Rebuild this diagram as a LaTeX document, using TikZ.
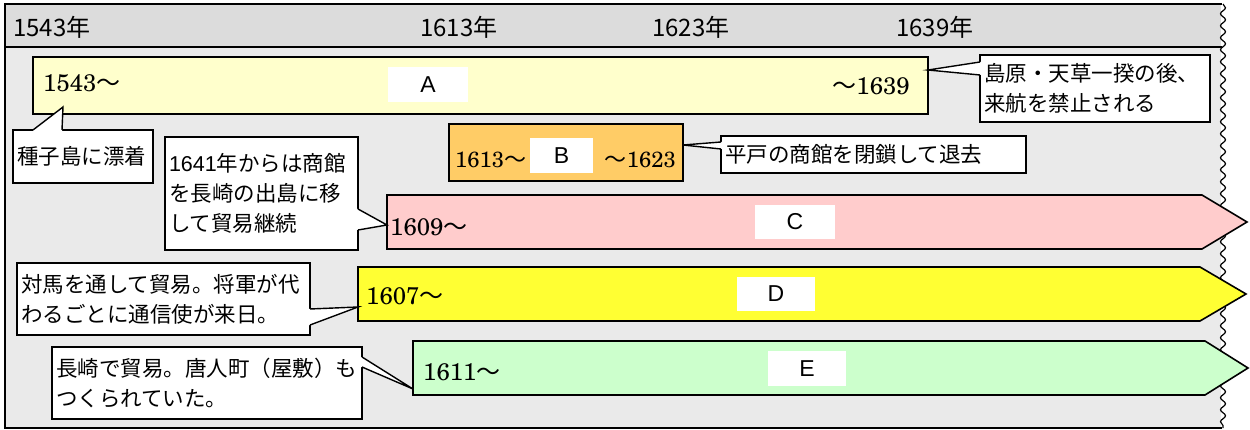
\documentclass[tikz,border=0pt]{standalone}
\usepackage{fontspec}
\newfontfamily\cjk{Noto Sans CJK JP}
\newfontfamily\arialf{Liberation Sans}
\newfontfamily\centf{TeX Gyre Schola}
\usetikzlibrary{calc,decorations.pathmorphing}
\definecolor{hdrgray}{HTML}{DCDCDC}
\definecolor{bodygray}{HTML}{EAEAEA}
\definecolor{barAc}{HTML}{FFFFCC}
\definecolor{barBc}{HTML}{FFCC66}
\definecolor{barCc}{HTML}{FFCCCC}
\definecolor{barDc}{HTML}{FFFF33}
\definecolor{barEc}{HTML}{CCFFCC}
\newcommand\callptr[4]{%
  \fill[white] ($(#2)+(#4)$) -- (#2) -- (#1) -- (#3) -- ($(#3)+(#4)$) -- cycle;
  \draw[ptr] (#2) -- (#1) -- (#3);}
\begin{document}
\begin{tikzpicture}[x=1pt,y=-1pt,
  barbox/.style={draw=black, line width=1.6pt, line join=miter, outer sep=0pt, inner sep=0pt, anchor=north west},
  lbl/.style={fill=white, inner sep=0pt, outer sep=0pt, anchor=north west, font=\arialf\fontsize{23}{23}\selectfont},
  yr/.style={inner sep=0pt, font=\centf\fontsize{24}{24}\selectfont},
  yrsmall/.style={inner sep=0pt, font=\centf\fontsize{22}{22}\selectfont},
  hd/.style={anchor=west, inner sep=0pt, font=\cjk\fontsize{24}{24}\selectfont},
  callout/.style={draw=black, fill=white, line width=1.4pt, anchor=north west, align=left, inner xsep=4pt, inner ysep=0pt, outer sep=0pt, font=\cjk\fontsize{21.5}{30}\selectfont},
  ptr/.style={draw=black, line width=1.4pt, line join=miter}
]
\useasboundingbox (0,0) rectangle (1250,430);
% frame
\fill[hdrgray] (5,4) rectangle (1221,47);
\fill[bodygray] (5,47) rectangle (1221,428);
\draw[line width=1.8pt] (1222,4) -- (5,4) -- (5,428) -- (1222,428);
\draw[line width=1.6pt] (5,47) -- (1222,47);
\draw[line width=1.2pt, decorate, decoration={snake, amplitude=2.5pt, segment length=12pt}] (1223,4) -- (1223,428);
% header
\node[hd] (h1543) at (13,27) {1543年};
\node[hd] (h1613) at (420,27) {1613年};
\node[hd] (h1623) at (652,27) {1623年};
\node[hd] (h1639) at (896,27) {1639年};
% bar A
\node[barbox, fill=barAc, minimum width=895pt, minimum height=57pt] (barA) at (33,57) {};
\node[lbl, minimum width=80pt, minimum height=35pt] (lA) at (388,67) {A};
\node[yr, anchor=base west] (yA1) at (43,92) {1543{\cjk 〜}};
\node[yr, anchor=base east] (yA2) at (910,95) {{\cjk 〜}1639};
% bar B
\node[barbox, fill=barBc, minimum width=234pt, minimum height=57pt] (barB) at (449,124) {};
\node[lbl, minimum width=63pt, minimum height=35pt] (lB) at (530,138) {B};
\node[yrsmall, anchor=base west] (yB1) at (455,168) {1613{\cjk 〜}};
\node[yrsmall, anchor=base east] (yB2) at (676,168) {{\cjk 〜}1623};
% bar C
\draw[barbox, fill=barCc] (387,195) -- (1202,195) -- (1247,222) -- (1202,249) -- (387,249) -- cycle;
\coordinate (Cleft) at (387,222);
\node[lbl, minimum width=80pt, minimum height=34pt] (lC) at (755,205) {C};
\node[yr, anchor=base west] (yC) at (390,236) {1609{\cjk 〜}};
% bar D
\draw[barbox, fill=barDc] (358,267) -- (1200,267) -- (1246,294) -- (1200,321) -- (358,321) -- cycle;
\node[lbl, minimum width=78pt, minimum height=34pt] (lD) at (737,277) {D};
\node[yr, anchor=base west] (yD) at (366,305) {1607{\cjk 〜}};
% bar E
\draw[barbox, fill=barEc] (413,341) -- (1205,341) -- (1248,368) -- (1205,395) -- (413,395) -- cycle;
\node[lbl, minimum width=78pt, minimum height=35pt] (lE) at (768,351) {E};
\node[yr, anchor=base west] (yE) at (423,380) {1611{\cjk 〜}};
% callouts
\node[callout, text width=132pt, minimum height=53pt] (ctane) at (13,130) {種子島に漂着};
\coordinate (tTane) at (63,107);
\coordinate (bTane1) at (ctane.north west -| 33,0);
\coordinate (bTane2) at (ctane.north west -| 62,0);
\callptr{tTane}{bTane1}{bTane2}{0,2}

\node[callout, text width=222pt, minimum height=67pt] (cshim) at (980,55) {島原・天草一揆の後、\\来航を禁止される};
\coordinate (tShim) at (barA.east |- 0,70);
\coordinate (bShim1) at (cshim.west |- 0,62);
\coordinate (bShim2) at (cshim.west |- 0,75);
\callptr{tShim}{bShim1}{bShim2}{2,0}

\node[callout, text width=297pt, minimum height=37pt] (chira) at (721,136) {平戸の商館を閉鎖して退去};
\coordinate (tHira) at (barB.east |- 0,145);
\coordinate (bHira1) at (chira.west |- 0,142);
\coordinate (bHira2) at (chira.west |- 0,149);
\callptr{tHira}{bHira1}{bHira2}{2,0}

\node[callout, text width=185pt, minimum height=113pt] (cdeji) at (165,137) {{\arialf 1641}年からは商館\\を長崎の出島に移\\して貿易継続};
\coordinate (tDeji) at (Cleft |- 0,225);
\coordinate (bDeji1) at (cdeji.east |- 0,209);
\coordinate (bDeji2) at (cdeji.east |- 0,230);
\callptr{tDeji}{bDeji1}{bDeji2}{-2,0}

\node[callout, text width=285pt, minimum height=72pt] (ctsu) at (17,263) {対馬を通して貿易。将軍が代\\わるごとに通信使が来日。};
\coordinate (tTsu) at (358,307);
\coordinate (bTsu1) at (ctsu.east |- 0,309);
\coordinate (bTsu2) at (ctsu.east |- 0,325);
\callptr{tTsu}{bTsu1}{bTsu2}{-2,0}

\node[callout, text width=302pt, minimum height=72pt] (cnaga) at (52,347) {長崎で貿易。唐人町（屋敷）も\\つくられていた。};
\coordinate (tNaga) at (413,389);
\coordinate (bNaga1) at (cnaga.east |- 0,357);
\coordinate (bNaga2) at (cnaga.east |- 0,367);
\callptr{tNaga}{bNaga1}{bNaga2}{-2,0}
\end{tikzpicture}
\end{document}
